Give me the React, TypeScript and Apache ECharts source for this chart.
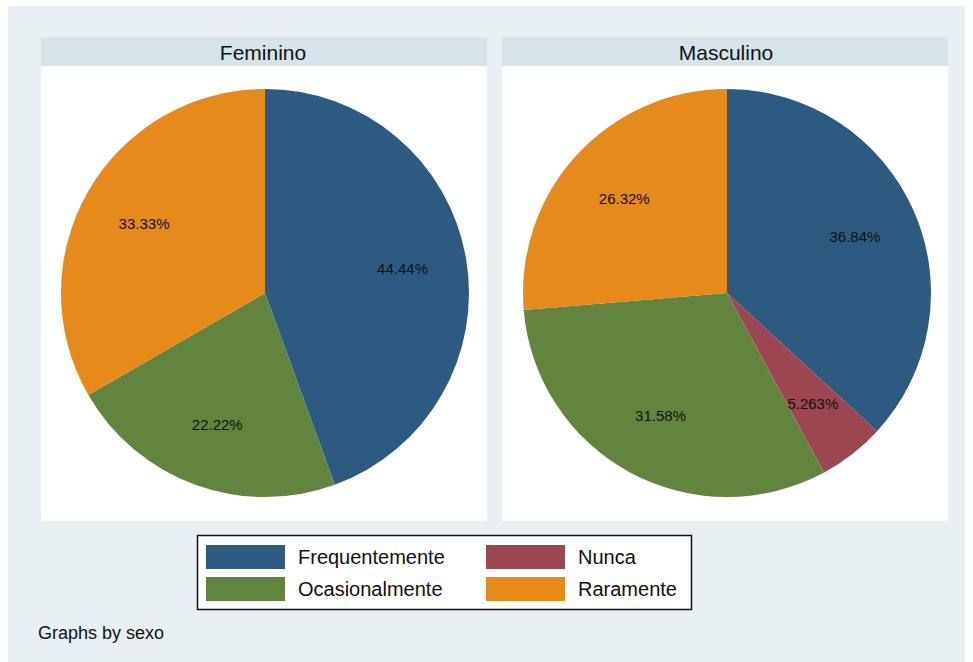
import React, { useEffect, useRef } from 'react';
import * as echarts from 'echarts';

const categories = ['Frequentemente', 'Nunca', 'Ocasionalmente', 'Raramente'];
const sliceColors = ['#2d5a80', '#9b4650', '#63843f', '#e68a1c'];
const panelTitles = ['Feminino', 'Masculino'];
const femininoValues = [44.44, 0, 22.22, 33.33];
const masculinoValues = [36.84, 5.263, 31.58, 26.32];
const legendColumn1 = ['Frequentemente', 'Ocasionalmente'];
const legendColumn2 = ['Nunca', 'Raramente'];
const noteText = 'Graphs by sexo';

const FONT = '"Liberation Sans", Arial, Helvetica, sans-serif';

function buildData(values: number[]) {
  return categories
    .map((name, i) => ({ name, value: values[i], itemStyle: { color: sliceColors[i] } }))
    .filter((d) => d.value > 0);
}

const fmt = (p: any) => Number(p.value).toPrecision(4) + '%';

export default function App() {
  const ref = useRef<HTMLDivElement>(null);
  useEffect(() => {
    if (!ref.current) return;
    const chart = echarts.init(ref.current, undefined, { renderer: 'svg' });
    const R = 204;
    const centers = [
      [265, 293],
      [727, 293],
    ];
    const valueSets = [femininoValues, masculinoValues];
    const pies: any[] = valueSets.map((vals, k) => ({
      type: 'pie',
      name: panelTitles[k],
      center: centers[k],
      radius: [0, R],
      startAngle: 90,
      clockwise: true,
      z: 2,
      label: { show: false },
      labelLine: { show: false },
      itemStyle: { borderWidth: 0 },
      emphasis: { disabled: true },
      data: buildData(vals),
    }));
    const overlays: any[] = valueSets.map((vals, k) => ({
      type: 'pie',
      name: panelTitles[k] + ' labels',
      center: centers[k],
      radius: [0, R * 1.34],
      startAngle: 90,
      clockwise: true,
      silent: true,
      z: 3,
      avoidLabelOverlap: false,
      itemStyle: { color: 'rgba(0,0,0,0)', borderWidth: 0 },
      emphasis: { disabled: true },
      labelLine: { show: false },
      label: {
        show: true,
        position: 'inside',
        formatter: fmt,
        color: '#111',
        fontSize: 15,
        fontFamily: FONT,
      },
      data: buildData(vals).map((d) => ({ ...d, itemStyle: { color: 'rgba(0,0,0,0)' } })),
    }));

    const legendBase = {
      orient: 'vertical',
      top: 545,
      itemWidth: 79,
      itemHeight: 24,
      itemGap: 8,
      icon: 'rect',
      selectedMode: false,
      padding: 0,
      textStyle: { fontSize: 20, color: '#111', fontFamily: FONT, padding: [0, 0, 0, 8] },
    };

    chart.setOption({
      animation: false,
      textStyle: { fontFamily: FONT },
      legend: [
        { ...legendBase, left: 206, data: legendColumn1 },
        { ...legendBase, left: 486, data: legendColumn2 },
      ],
      graphic: [
        { type: 'rect', z: -10, shape: { x: 8, y: 6, width: 957, height: 656 }, style: { fill: '#e8f0f3' } },
        { type: 'rect', z: -9, shape: { x: 41, y: 66, width: 446, height: 455 }, style: { fill: '#ffffff' } },
        { type: 'rect', z: -9, shape: { x: 502, y: 66, width: 446, height: 455 }, style: { fill: '#ffffff' } },
        { type: 'rect', z: -9, shape: { x: 41, y: 37, width: 446, height: 29 }, style: { fill: '#d5e3ea' } },
        { type: 'rect', z: -9, shape: { x: 502, y: 37, width: 446, height: 29 }, style: { fill: '#d5e3ea' } },
        {
          type: 'text', z: -8, x: 263, y: 52,
          style: { text: panelTitles[0], fill: '#111', font: `21px ${FONT}`, textAlign: 'center', textVerticalAlign: 'middle' },
        },
        {
          type: 'text', z: -8, x: 726, y: 52,
          style: { text: panelTitles[1], fill: '#111', font: `21px ${FONT}`, textAlign: 'center', textVerticalAlign: 'middle' },
        },
        {
          type: 'rect', z: -8, shape: { x: 197.5, y: 535.5, width: 494, height: 74 },
          style: { fill: '#ffffff', stroke: '#111', lineWidth: 1.5 },
        },
        {
          type: 'text', z: -8, x: 38, y: 633,
          style: { text: noteText, fill: '#111', font: `18px ${FONT}`, textAlign: 'left', textVerticalAlign: 'middle' },
        },
      ],
      series: [...pies, ...overlays],
    });
    return () => chart.dispose();
  }, []);
  return (
    <div
      ref={ref}
      style={{ position: 'fixed', left: 0, top: 0, width: 973, height: 662, background: '#ffffff' }}
    />
  );
}
